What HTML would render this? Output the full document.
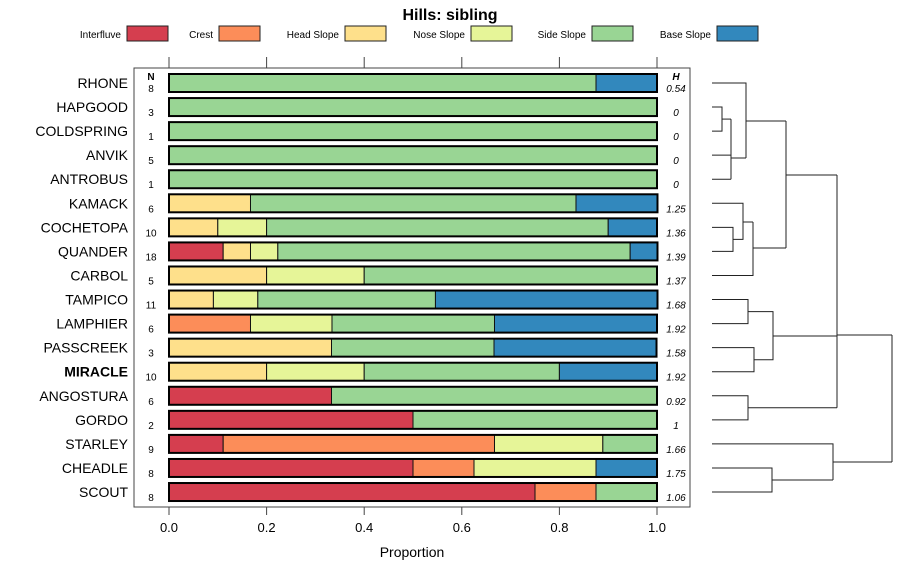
<!DOCTYPE html>
<html><head><meta charset="utf-8"><style>
body{margin:0;background:#fff;}
svg{display:block;font-family:"Liberation Sans",sans-serif;}
</style></head><body>
<svg id="c" width="900" height="580"></svg>
<script>
const categories=["RHONE","HAPGOOD","COLDSPRING","ANVIK","ANTROBUS","KAMACK","COCHETOPA","QUANDER","CARBOL","TAMPICO","LAMPHIER","PASSCREEK","MIRACLE","ANGOSTURA","GORDO","STARLEY","CHEADLE","SCOUT"];
const seriesNames=["Interfluve","Crest","Head Slope","Nose Slope","Side Slope","Base Slope"];
const seriesColors=["#D53E4F","#FC8D59","#FEE08B","#E6F598","#99D594","#3288BD"];
const interfluve=[0,0,0,0,0,0,0,0.111,0,0,0,0,0,0.333,0.5,0.111,0.5,0.75];
const crest=[0,0,0,0,0,0,0,0,0,0,0.167,0,0,0,0,0.556,0.125,0.125];
const headSlope=[0,0,0,0,0,0.167,0.1,0.056,0.2,0.091,0,0.333,0.2,0,0,0,0,0];
const noseSlope=[0,0,0,0,0,0,0.1,0.056,0.2,0.091,0.167,0,0.2,0,0,0.222,0.25,0];
const sideSlope=[0.875,1,1,1,1,0.667,0.7,0.722,0.6,0.364,0.333,0.333,0.4,0.667,0.5,0.111,0,0.125];
const baseSlope=[0.125,0,0,0,0,0.167,0.1,0.056,0,0.455,0.333,0.333,0.2,0,0,0,0.125,0];
const nValues=[8,3,1,5,1,6,10,18,5,11,6,3,10,6,2,9,8,8];
const hValues=["0.54","0","0","0","0","1.25","1.36","1.39","1.37","1.68","1.92","1.58","1.92","0.92","1","1.66","1.75","1.06"];
const xTicks=[0,0.2,0.4,0.6,0.8,1.0];
const xTickLabels=["0.0","0.2","0.4","0.6","0.8","1.0"];

const svg=document.getElementById('c');
const NS="http://www.w3.org/2000/svg";
function mk(tag,attrs,parent){const e=document.createElementNS(NS,tag);for(const k in attrs)e.setAttribute(k,attrs[k]);(parent||svg).appendChild(e);return e;}
const xS=v=>169+v*488;
const yS=i=>83+i*24.06;

// title
let t=mk('text',{x:450,y:20,'text-anchor':'middle','font-size':16,'font-weight':'bold'});t.textContent="Hills: sibling";


// legend
const legBox=[127,219,345,471,592,717];
seriesNames.forEach((n,i)=>{
  const g=mk('g',{});
  
  
  const tx=mk('text',{x:legBox[i]-6,y:38,'text-anchor':'end','font-size':10},g);tx.textContent=n;
  mk('rect',{x:legBox[i],y:26,width:41,height:15,fill:seriesColors[i],stroke:'#222','stroke-width':1},g);
});

// panel
const panel=mk('rect',{x:134,y:68,width:556,height:439,fill:'none',stroke:'#444','stroke-width':1});

xTicks.forEach((v,i)=>{
  mk('line',{x1:xS(v),x2:xS(v),y1:57,y2:68,stroke:'#444'});
  mk('line',{x1:xS(v),x2:xS(v),y1:507,y2:515,stroke:'#444'});
  const l=mk('text',{x:xS(v),y:532,'text-anchor':'middle','font-size':13});l.textContent=xTickLabels[i];
  
});
let xt=mk('text',{x:412,y:557,'text-anchor':'middle','font-size':14});xt.textContent="Proportion";


let nh=mk('text',{x:151,y:80,'text-anchor':'middle','font-size':10,'font-weight':'bold'});nh.textContent="N";

let hh=mk('text',{x:676,y:80,'text-anchor':'middle','font-size':10,'font-weight':'bold','font-style':'italic'});hh.textContent="H";


const series=[interfluve,crest,headSlope,noseSlope,sideSlope,baseSlope];
categories.forEach((c,i)=>{
  const y=yS(i);
  const lab=mk('text',{x:128,y:y+5,'text-anchor':'end','font-size':14,'font-weight':c==="MIRACLE"?'bold':'normal'});lab.textContent=c;
  
  let cum=0;
  series.forEach((s,k)=>{
    if(s[i]>0){
      const r=mk('rect',{x:xS(cum),y:y-9,width:xS(cum+s[i])-xS(cum),height:18,fill:seriesColors[k],stroke:'#111','stroke-width':1});
      
      cum+=s[i];
    }
  });
  mk('rect',{x:xS(0),y:y-9,width:xS(cum)-xS(0),height:18,fill:'none',stroke:'#000','stroke-width':2});
  const n=mk('text',{x:151,y:y+9,'text-anchor':'middle','font-size':10});n.textContent=nValues[i];
  
  const h=mk('text',{x:676,y:y+9,'text-anchor':'middle','font-size':10,'font-style':'italic'});h.textContent=hValues[i];
  
});

// dendrogram
const dg=mk('g',{fill:'none',stroke:'#222','stroke-width':1});

const L=712;
function seg(p){mk('polyline',{points:p},dg);}
const Y=yS;
// cluster 1
seg(`${L},${Y(1)} 722,${Y(1)} 722,${Y(2)} ${L},${Y(2)}`);
const m12=(Y(1)+Y(2))/2;
seg(`722,${m12} 731,${m12}`);
seg(`${L},${Y(3)} 731,${Y(3)}`);seg(`${L},${Y(4)} 731,${Y(4)}`);
seg(`731,${m12} 731,${Y(4)}`);
seg(`731,158 746,158`);
seg(`${L},${Y(0)} 746,${Y(0)} 746,158`);
seg(`746,121 786,121`);
// cluster 2
seg(`${L},${Y(6)} 733,${Y(6)} 733,${Y(7)} ${L},${Y(7)}`);
const m67=(Y(6)+Y(7))/2;
seg(`733,${m67} 743,${m67} 743,${Y(5)} ${L},${Y(5)}`);
seg(`743,222 753,222`);
seg(`${L},${Y(8)} 753,${Y(8)} 753,222`);
seg(`753,248 786,248`);
seg(`786,121 786,248`);
seg(`786,175 837,175`);
// cluster 3
seg(`${L},${Y(9)} 748,${Y(9)} 748,${Y(10)} ${L},${Y(10)}`);
seg(`${L},${Y(11)} 754,${Y(11)} 754,${Y(12)} ${L},${Y(12)}`);
const m910=(Y(9)+Y(10))/2,m1112=(Y(11)+Y(12))/2;
seg(`748,${m910} 773,${m910} 773,${m1112} 754,${m1112}`);
seg(`773,336 837,336`);
seg(`${L},${Y(13)} 748,${Y(13)} 748,${Y(14)} ${L},${Y(14)}`);
const m1314=(Y(13)+Y(14))/2;
seg(`748,${m1314} 837,${m1314}`);
seg(`837,175 837,${m1314}`);
seg(`837,335 892,335`);
// cluster 4
seg(`${L},${Y(16)} 772,${Y(16)} 772,${Y(17)} ${L},${Y(17)}`);
const m1617=(Y(16)+Y(17))/2;
seg(`772,${m1617} 833,${m1617}`);
seg(`${L},${Y(15)} 833,${Y(15)} 833,${m1617}`);
seg(`833,462 892,462`);
seg(`892,335 892,462`);
</script>
</body></html>
